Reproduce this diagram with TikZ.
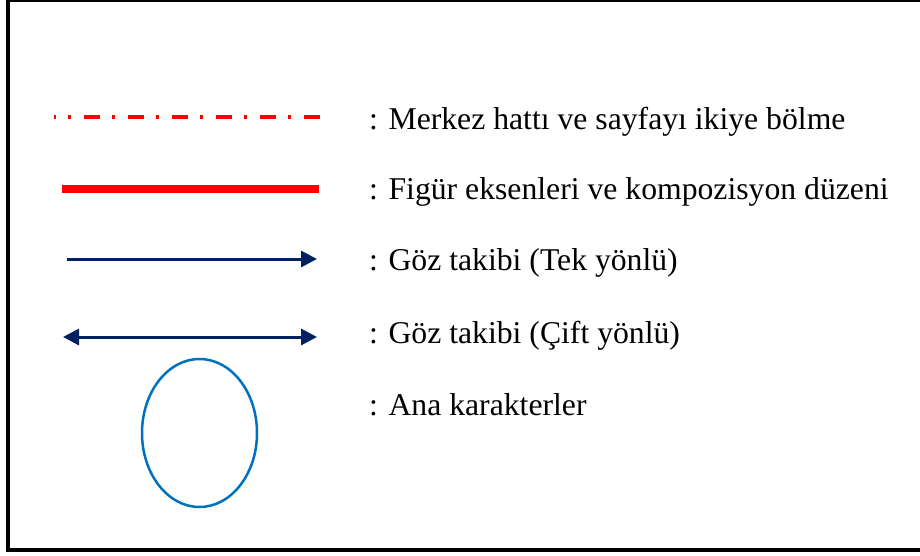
\documentclass[tikz,border=0pt]{standalone}
\usepackage{fontspec}
\setmainfont{Liberation Serif}
\usetikzlibrary{arrows.meta,shapes.geometric}
\definecolor{navy}{HTML}{002060}
\definecolor{ellblue}{HTML}{0070C0}
\begin{document}
\begin{tikzpicture}[x=1pt,y=-1pt,
  >={Triangle[length=16pt,width=16pt]},
  lbl/.style={anchor=base west, inner sep=0pt, font=\fontsize{31.7}{38}\selectfont},
  eyeline/.style={draw=navy, line width=3pt}]
\useasboundingbox (0,0) rectangle (920,556);
\begin{scope}
\clip (0,0) rectangle (920,556);
\draw[line width=4pt] (8,0) rectangle (930,549.5);
\end{scope}
% line 1: dash-dot red
\coordinate (a1) at (54,117);
\coordinate (b1) at (320,117);
\draw[red, line width=3.5pt, dash pattern=on 16pt off 12pt on 3pt off 13pt, dash phase=14pt] (a1) -- (b1);
\node[lbl] (t1) at (369,130) {: Merkez hattı ve sayfayı ikiye bölme};
% line 2: thick red
\coordinate (a2) at (62,189);
\coordinate (b2) at (319,189);
\draw[red, line width=8pt] (a2) -- (b2);
\node[lbl] (t2) at (369,199) {: Figür eksenleri ve kompozisyon düzeni};
% line 3: single arrow
\coordinate (a3) at (67,259);
\coordinate (b3) at (317,259);
\draw[eyeline, ->] (a3) -- (b3);
\node[lbl] (t3) at (369,270) {: Göz takibi (Tek yönlü)};
% line 4: double arrow
\coordinate (a4) at (63,337);
\coordinate (b4) at (317,337);
\draw[eyeline, <->] (a4) -- (b4);
\node[lbl] (t4) at (369,343) {: Göz takibi (Çift yönlü)};
% ellipse
\node[ellipse, draw=ellblue, line width=2.5pt, inner sep=0pt, minimum width=115pt, minimum height=148pt] (e) at (199.5,433) {};
\node[lbl] (t5) at (369,415) {: Ana karakterler};
\end{tikzpicture}
\end{document}
